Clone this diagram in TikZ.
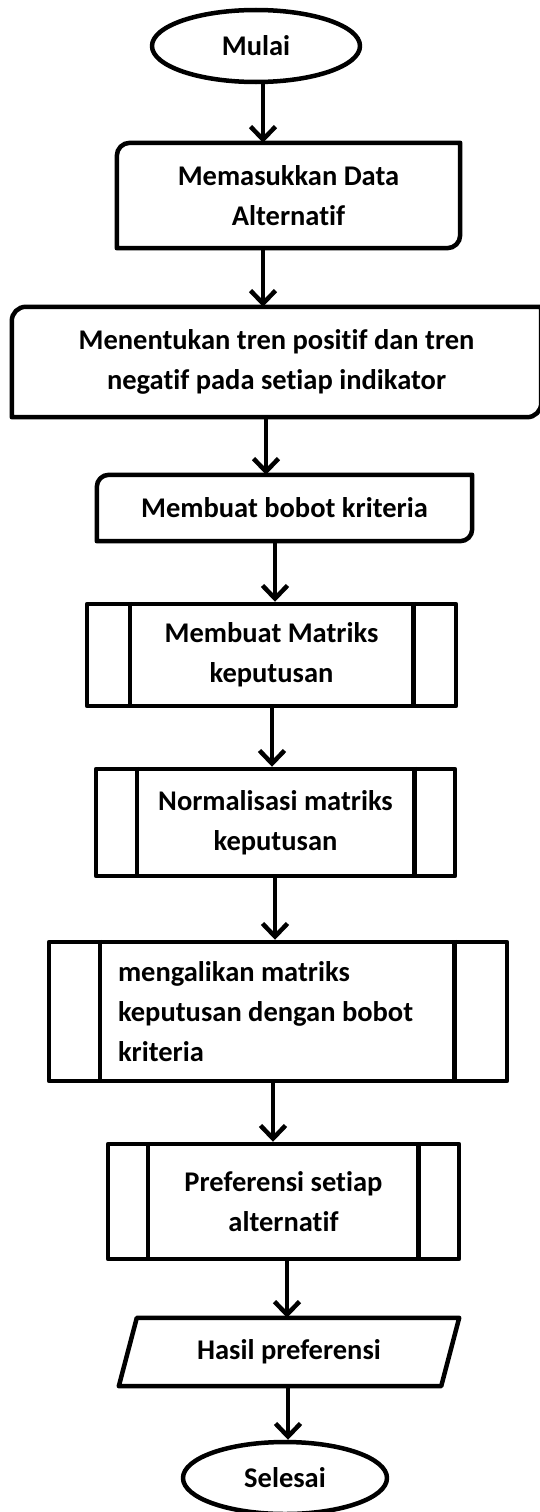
\documentclass[tikz,border=0pt]{standalone}
\usepackage{fontspec}
\setmainfont{Carlito}[Ligatures=NoCommon]
\usetikzlibrary{shapes.geometric,arrows.meta}
\newcommand{\flowsnip}[2]{%
  \draw[lw] (#1.south west) -- ([yshift=-#2]#1.north west)
    arc[start angle=180,end angle=90,radius=#2] -- (#1.north east)
    -- ([yshift=#2]#1.south east)
    arc[start angle=0,end angle=-90,radius=#2] -- cycle;}
\newcommand{\flowsub}[3]{%
  \draw[lw] ([xshift=#2]#1.north west) -- ([xshift=#2]#1.south west);
  \draw[lw] ([xshift=-#3]#1.north east) -- ([xshift=-#3]#1.south east);}
\begin{document}
\begin{tikzpicture}[x=1pt,y=-1pt,
  lw/.style={line width=4.5pt, line join=round},
  txt/.style={font=\bfseries\fontsize{28.5}{40}\selectfont, align=center, inner sep=0pt},
  term/.style={txt, ellipse, draw, lw},
  subbox/.style={txt, rectangle, draw, lw},
  arr/.style={lw, -{Straight Barb[length=13pt,width=25pt]},
    preaction={draw=gray!60, transform canvas={yshift=-2pt}}},
]
\useasboundingbox[fill=white] (0,0) rectangle (539,1512);

\node[term, minimum width=208pt, minimum height=72pt] (mulai) at (256,46) {Mulai};
\node[txt, minimum width=343pt, minimum height=105pt] (data) at (288.5,195.5) {Memasukkan Data\\Alternatif};
\flowsnip{data}{13pt}
\node[txt, minimum width=529pt, minimum height=110pt] (tren) at (276.5,362) {Menentukan tren positif dan tren\\negatif pada setiap indikator};
\flowsnip{tren}{14pt}
\node[txt, minimum width=375pt, minimum height=66pt] (bobot) at (284.5,508) {Membuat bobot kriteria};
\flowsnip{bobot}{12pt}
\node[subbox, minimum width=369pt, minimum height=102pt] (matriks) at (271.5,655) {Membuat Matriks\\keputusan};
\flowsub{matriks}{45pt}{45pt}
\node[subbox, minimum width=359pt, minimum height=107pt] (norm) at (275.5,822.5) {Normalisasi matriks\\keputusan};
\flowsub{norm}{43pt}{43pt}
\node[subbox, minimum width=458pt, minimum height=139pt, text width=320pt, align=flush left] (kali) at (278,1011.5) {mengalikan matriks\\keputusan dengan bobot\\kriteria};
\flowsub{kali}{53pt}{55pt}
\node[subbox, minimum width=351pt, minimum height=115pt] (pref) at (283.5,1201.5) {Preferensi setiap\\alternatif};
\flowsub{pref}{42pt}{43pt}
\node[txt, minimum width=322pt, minimum height=68pt] (hasil) at (289,1352) {Hasil preferensi};
\draw[lw] ([xshift=9pt]hasil.north west) -- ([xshift=9pt]hasil.north east)
  -- ([xshift=-9pt]hasil.south east) -- ([xshift=-9pt]hasil.south west) -- cycle;
\node[term, minimum width=204pt, minimum height=72pt] (selesai) at (285,1478) {Selesai};

\coordinate (ax1) at (263,0);
\coordinate (ax2) at (263,0);
\coordinate (ax3) at (266,0);
\coordinate (ax4) at (275,0);
\coordinate (ax5) at (272,0);
\coordinate (ax6) at (275,0);
\coordinate (ax7) at (273,0);
\coordinate (ax8) at (287,0);
\coordinate (ax9) at (288,0);

\draw[arr] (mulai.south -| ax1) -- (data.north -| ax1);
\draw[arr] (data.south -| ax2) -- (tren.north -| ax2);
\draw[arr] (tren.south -| ax3) -- (bobot.north -| ax3);
\draw[arr] (bobot.south -| ax4) -- (matriks.north -| ax4);
\draw[arr] (matriks.south -| ax5) -- (norm.north -| ax5);
\draw[arr] (norm.south -| ax6) -- (kali.north -| ax6);
\draw[arr] (kali.south -| ax7) -- (pref.north -| ax7);
\draw[arr] (pref.south -| ax8) -- (hasil.north -| ax8);
\draw[arr] (hasil.south -| ax9) -- (selesai.north -| ax9);
\end{tikzpicture}
\end{document}
